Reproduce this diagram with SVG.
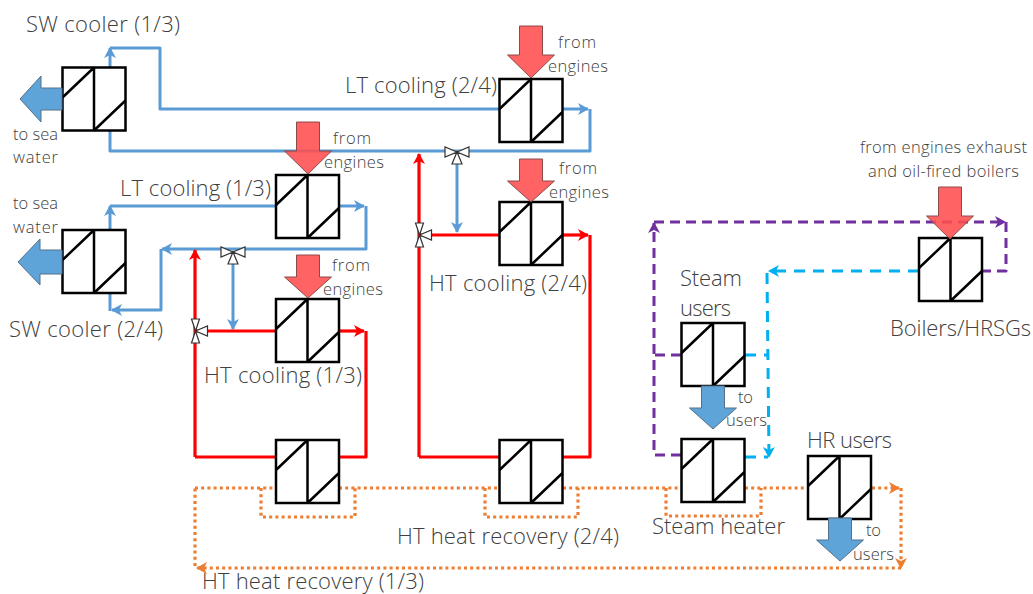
<svg xmlns="http://www.w3.org/2000/svg" width="1033" height="594" viewBox="0 0 1033 594">
<style>
.t{font-family:"Open Sans","Noto Sans",sans-serif;font-weight:300;fill:#404040}
.l{font-size:22px}.s{font-size:16.5px}
.hx{fill:#fff;stroke:#000;stroke-width:2.5}
.c{fill:none;stroke-width:3;stroke-linejoin:round}
.blue{stroke:#5b9bd5}.red{stroke:#f00;stroke-width:3.2}
.pur{stroke:#7030a0;stroke-dasharray:10 6}.cy{stroke:#00b0f0;stroke-dasharray:11 8}
.or{stroke:#ed7d31;stroke-dasharray:3 3.2;stroke-width:3.2}
.ra{fill:#ff4d4d;fill-opacity:.88;stroke:#8a4a4a;stroke-width:1}
.ba{fill:#5fa4d8;stroke:#55708a;stroke-width:1}
.v{fill:#fff;stroke:#333;stroke-width:1.2}
</style>
<defs>
<g id="h"><rect width="63" height="63"/><path fill="none" d="M31.500 0V63M0 30L31.500 0M31.500 63L63 33"/></g>
<path id="dn" d="M-11.500 -52H11.500V-23H23.500L0 0L-23.500 -23H-11.500Z"/>
<path id="ds" d="M-11.500 -43H11.500V-21H23.500L0 0L-23.500 -21H-11.500Z"/>
<g id="vh"><path class="v" d="M0 0L-12 -5V5ZM0 0L12 -5V5ZM0 0L-5 12H5Z"/></g>
<g id="vv"><path class="v" d="M0 0L-4 -12H4ZM0 0L-4 12H4ZM0 0L12 -5V5Z"/></g>
<marker id="ab" markerUnits="userSpaceOnUse" markerWidth="12" markerHeight="12" refX="10" refY="6" orient="auto"><path d="M0 0L11 6L0 12L3 6Z" fill="#5b9bd5"/></marker>
<marker id="ar" markerUnits="userSpaceOnUse" markerWidth="12" markerHeight="12" refX="10" refY="6" orient="auto"><path d="M0 0L11 6L0 12L3 6Z" fill="#f00"/></marker>
<marker id="ap" markerUnits="userSpaceOnUse" markerWidth="12" markerHeight="12" refX="10" refY="6" orient="auto"><path d="M0 0L11 6L0 12L3 6Z" fill="#7030a0"/></marker>
<marker id="ac" markerUnits="userSpaceOnUse" markerWidth="12" markerHeight="12" refX="10" refY="6" orient="auto"><path d="M0 0L11 6L0 12L3 6Z" fill="#00b0f0"/></marker>
<marker id="ao" markerUnits="userSpaceOnUse" markerWidth="12" markerHeight="12" refX="10" refY="6" orient="auto"><path d="M0 0L11 6L0 12L3 6Z" fill="#ed7d31"/></marker>
</defs>
<g id="connectors">
<path class="c blue" d="M110 67V48" marker-end="url(#ab)"/>
<path class="c blue" d="M110 48H160V109H499"/>
<path class="c blue" d="M563 109H588" marker-end="url(#ab)"/>
<path class="c blue" d="M590 109V151H110V130"/>
<path class="c blue" d="M457 157V232" marker-end="url(#ab)"/>
<path class="c blue" d="M110 230V206" marker-end="url(#ab)"/>
<path class="c blue" d="M110 206H276"/>
<path class="c blue" d="M339 206H364" marker-end="url(#ab)"/>
<path class="c blue" d="M366 206V249H162" marker-end="url(#ab)"/>
<path class="c blue" d="M161 249V310H112" marker-end="url(#ab)"/>
<path class="c blue" d="M110 293V311"/>
<path class="c blue" d="M233 255V329" marker-end="url(#ab)"/>
<path class="c red" d="M195 457V250" marker-end="url(#ar)"/>
<path class="c red" d="M195 457H276"/>
<path class="c red" d="M195 331H276"/>
<path class="c red" d="M339 331H364" marker-end="url(#ar)"/>
<path class="c red" d="M366 331V457H339"/>
<path class="c red" d="M419 457V154" marker-end="url(#ar)"/>
<path class="c red" d="M419 457H499"/>
<path class="c red" d="M419 235H499"/>
<path class="c red" d="M563 235H588" marker-end="url(#ar)"/>
<path class="c red" d="M590 235V457H563"/>
<path class="c pur" d="M681 455H654V223" marker-end="url(#ap)"/>
<path class="c pur" d="M654 222H1005" marker-end="url(#ap)"/>
<path class="c pur" d="M1006 222V271H983"/>
<path class="c pur" d="M681 355H654"/>
<path class="c cy" d="M919 271H769" marker-end="url(#ac)"/>
<path class="c cy" d="M767 273L769 457" marker-end="url(#ac)"/>
<path class="c cy" d="M745 355H768"/>
<path class="c cy" d="M745 457H768"/>
<path class="c or" d="M195 488H276M339 488H499M563 488H681M745 488H808"/>
<path class="c or" d="M872 488H899" marker-end="url(#ao)"/>
<path class="c or" d="M901 488V568" marker-end="url(#ao)"/>
<path class="c or" d="M901 568H197" marker-end="url(#ao)"/>
<path class="c or" d="M195 566V488"/>
<path class="c or" d="M261 488V517H355V488"/>
<path class="c or" d="M485 488V517H578V488"/>
<path class="c or" d="M666 488V516H761V488"/>
</g>
<g id="sw1"><use href="#h" class="hx" x="62.500" y="67.500"/></g>
<g id="sw2"><use href="#h" class="hx" x="62.500" y="230"/></g>
<g id="lt1"><use href="#h" class="hx" x="276" y="175"/></g>
<g id="ht1"><use href="#h" class="hx" x="276" y="299"/></g>
<g id="lt2"><use href="#h" class="hx" x="499.500" y="79"/></g>
<g id="ht2"><use href="#h" class="hx" x="499.500" y="202"/></g>
<g id="hr1"><use href="#h" class="hx" x="276" y="440"/></g>
<g id="hr2"><use href="#h" class="hx" x="499.500" y="440"/></g>
<g id="boiler"><use href="#h" class="hx" x="919" y="238"/></g>
<g id="steamusers"><use href="#h" class="hx" x="681.500" y="323"/></g>
<g id="steamheater"><use href="#h" class="hx" x="681.500" y="439"/></g>
<g id="hrusers"><use href="#h" class="hx" x="808" y="456"/></g>
<g id="arrows">
<use href="#dn" class="ra" x="308" y="174"/>
<use href="#ds" class="ra" x="308" y="298"/>
<use href="#dn" class="ra" x="531" y="78"/>
<use href="#ds" class="ra" x="531" y="202"/>
<use href="#dn" class="ra" x="950" y="239"/>
<use href="#ds" class="ba" x="713" y="429"/>
<use href="#ds" class="ba" x="840" y="561"/>
<path class="ba" d="M62 88V110H41V122L20 99L41 76V88Z"/>
<path class="ba" d="M62 250V274H40V285L18 262L40 239V250Z"/>
</g>
<g id="valves">
<use href="#vh" x="457" y="152"/>
<use href="#vh" x="233" y="252"/>
<use href="#vv" x="419.500" y="235"/>
<use href="#vv" x="195.500" y="331"/>
</g>
<g id="labels">
<text class="t l" x="26" y="32" textLength="154">SW cooler (1/3)</text>
<text class="t l" x="345" y="93" textLength="152">LT cooling (2/4)</text>
<text class="t l" x="120" y="196" textLength="151">LT cooling (1/3)</text>
<text class="t l" x="9" y="337" textLength="154">SW cooler (2/4)</text>
<text class="t l" x="429" y="291" textLength="158">HT cooling (2/4)</text>
<text class="t l" x="204" y="383" textLength="158">HT cooling (1/3)</text>
<text class="t l" x="397" y="544" textLength="222">HT heat recovery (2/4)</text>
<text class="t l" x="202" y="589" textLength="222">HT heat recovery (1/3)</text>
<text class="t l" x="680" y="286" textLength="62">Steam</text>
<text class="t l" x="680" y="316" textLength="51">users</text>
<text class="t l" x="890" y="336" textLength="141">Boilers/HRSGs</text>
<text class="t l" x="652" y="534" textLength="133">Steam heater</text>
<text class="t l" x="807" y="448" textLength="85">HR users</text>
<text class="t s" x="558" y="48" textLength="38">from</text>
<text class="t s" x="548" y="72" textLength="60">engines</text>
<text class="t s" x="333" y="144" textLength="38">from</text>
<text class="t s" x="324" y="168" textLength="60">engines</text>
<text class="t s" x="559" y="174" textLength="38">from</text>
<text class="t s" x="549" y="198" textLength="60">engines</text>
<text class="t s" x="332" y="271" textLength="38">from</text>
<text class="t s" x="323" y="295" textLength="60">engines</text>
<text class="t s" x="13" y="140" textLength="45">to sea</text>
<text class="t s" x="13" y="163" textLength="45">water</text>
<text class="t s" x="13" y="209" textLength="45">to sea</text>
<text class="t s" x="13" y="233" textLength="45">water</text>
<text class="t s" x="860" y="153" textLength="167">from engines exhaust</text>
<text class="t s" x="868" y="177" textLength="151">and oil-fired boilers</text>
<text class="t s" x="738" y="403" textLength="15">to</text>
<text class="t s" x="726" y="426" textLength="41">users</text>
<text class="t s" x="866" y="536" textLength="15">to</text>
<text class="t s" x="853" y="560" textLength="41">users</text>
</g>
</svg>
